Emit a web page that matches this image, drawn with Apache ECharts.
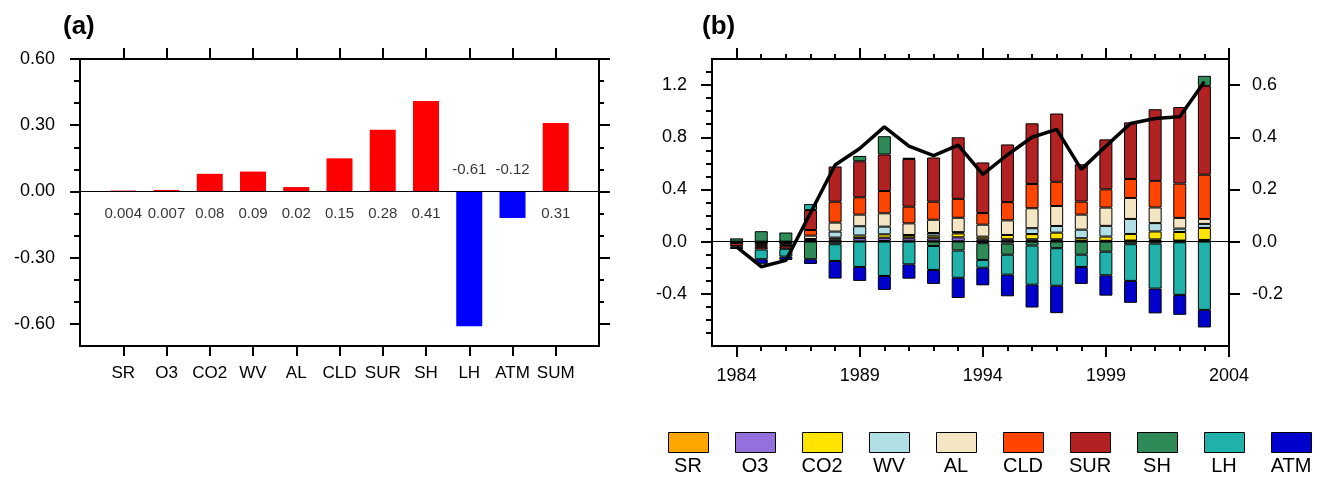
<!DOCTYPE html>
<html><head><meta charset="utf-8">
<script src="https://cdn.jsdelivr.net/npm/echarts@6/dist/echarts.min.js"></script>
<style>html,body{margin:0;padding:0;background:#fff}#c{width:1320px;height:478px}</style>
</head><body><div id="c"></div>
<script>
// ---------- Panel (a) data ----------
const termsA = ['SR','O3','CO2','WV','AL','CLD','SUR','SH','LH','ATM','SUM'];
const valuesA = [0.004, 0.007, 0.08, 0.09, 0.02, 0.15, 0.28, 0.41, -0.61, -0.12, 0.31];
const yMajorA = [-0.6, -0.3, 0, 0.3, 0.6];
const yMinorA = [-0.5, -0.4, -0.2, -0.1, 0.1, 0.2, 0.4, 0.5];

// ---------- Panel (b) data ----------
const axisYears = ['1983','1984','1985','1986','1987','1988','1989','1990','1991','1992','1993','1994','1995','1996','1997','1998','1999','2000','2001','2002','2003','2004'];
const years = ['1984','1985','1986','1987','1988','1989','1990','1991','1992','1993','1994','1995','1996','1997','1998','1999','2000','2001','2002','2003'];
const yearMajor = ['1984', '1989', '1994', '1999', '2004'];
const yearMinor = ['1985','1986','1987','1988','1990','1991','1992','1993','1995','1996','1997','1998','2000','2001','2002','2003'];
const leftMajorB = [-0.4, 0, 0.4, 0.8, 1.2];
const leftMinorB = [-0.7,-0.6,-0.5,-0.3,-0.2,-0.1,0.1,0.2,0.3,0.5,0.6,0.7,0.9,1.0,1.1,1.3];
const rightMajorB = [-0.2, 0, 0.2, 0.4, 0.6];

const termsB = ['SR','O3','CO2','WV','AL','CLD','SUR','SH','LH','ATM'];
const SR  = [0, 0, 0, 0, 0.003, 0.002, 0.005, 0.003, 0.003, 0.003, 0.003, 0.003, 0.003, 0.005, 0.003, 0.003, 0.005, 0.005, 0.005, 0.008];
const O3  = [0, -0.005, -0.005, 0.005, 0.015, 0.025, 0.025, 0.023, 0.023, 0.03, 0.015, 0.015, 0.015, 0.013, 0.003, 0.003, 0.003, 0.012, 0.003, 0.005];
const CO2 = [0, 0, 0, 0.005, 0.013, 0.02, 0.026, 0.02, 0.02, 0.03, 0.02, 0.033, 0.04, 0.051, 0.02, 0.033, 0.051, 0.061, 0.066, 0.092];
const WV  = [-0.005, -0.005, -0.005, 0.01, 0.046, 0.071, 0.059, 0.005, 0.02, 0.01, -0.012, -0.015, 0.045, 0.051, 0.066, 0.082, 0.115, 0.064, 0.026, 0.031];
const AL  = [0, -0.015, -0.015, 0.026, 0.069, 0.089, 0.102, 0.089, 0.102, 0.11, 0.092, 0.112, 0.153, 0.153, 0.115, 0.14, 0.161, 0.12, 0.082, 0.038];
const CLD = [-0.005, -0.015, -0.01, 0.043, 0.16, 0.133, 0.171, 0.128, 0.138, 0.145, 0.089, 0.14, 0.186, 0.186, 0.1, 0.14, 0.145, 0.204, 0.263, 0.339];
const SUR = [-0.025, -0.02, -0.02, 0.153, 0.27, 0.276, 0.28, 0.365, 0.339, 0.472, 0.388, 0.442, 0.465, 0.523, 0.286, 0.383, 0.434, 0.549, 0.587, 0.681];
const SH  = [0.025, 0.08, 0.07, -0.135, -0.02, 0.041, 0.14, 0.01, -0.033, -0.068, -0.128, -0.085, -0.03, -0.05, -0.1, -0.077, -0.02, -0.015, -0.005, 0.077];
const LH  = [-0.015, -0.075, -0.06, 0.046, -0.128, -0.194, -0.263, -0.174, -0.184, -0.209, -0.06, -0.153, -0.30, -0.288, -0.094, -0.181, -0.281, -0.345, -0.403, -0.523];
const ATM = [-0.005, -0.035, -0.025, -0.036, -0.135, -0.107, -0.107, -0.11, -0.107, -0.155, -0.135, -0.166, -0.175, -0.21, -0.13, -0.156, -0.168, -0.19, -0.153, -0.135];
const lineB = [-0.02, -0.096, -0.072, 0.11, 0.294, 0.357, 0.44, 0.366, 0.33, 0.37, 0.258, 0.333, 0.40, 0.43, 0.277, 0.366, 0.453, 0.472, 0.479, 0.613];

const colorsB = ['#FFA500','#9370DB','#FFE400','#B0E0E6','#F5E6C3','#FF4500','#B22222','#2E8B57','#20B2AA','#0000CD'];
const seriesB = [SR, O3, CO2, WV, AL, CLD, SUR, SH, LH, ATM];

const FONT = 'Liberation Sans, Arial, Helvetica, sans-serif';
const chart = echarts.init(document.getElementById('c'), null, {renderer: 'canvas'});

// category axis for panel (a): one empty slot at each end so the plot has a full-category margin
const axisTermsA = [''].concat(termsA, ['']);

const TICK_STYLE = {color: '#000', width: 2};
function valueTickAxis(base, vals, len, labelCfg) {
  return Object.assign({
    axisLine: {show: false, onZero: false},
    splitLine: {show: false},
    axisTick: {show: true, inside: false, length: len, customValues: vals, lineStyle: TICK_STYLE},
    axisLabel: labelCfg ? Object.assign({show: true, color: '#000', fontFamily: FONT}, labelCfg) : {show: false}
  }, base);
}
function catAxis(gridIndex, data, position, tickTest, len, labelCfg) {
  return {
    type: 'category', gridIndex: gridIndex, data: data, boundaryGap: false, position: position,
    axisLine: {show: false, onZero: false},
    splitLine: {show: false},
    axisTick: {show: true, inside: false, length: len, lineStyle: TICK_STYLE,
      interval: (idx, val) => tickTest(val)},
    axisLabel: labelCfg ? Object.assign({show: true, color: '#000', fontFamily: FONT}, labelCfg) : {show: false}
  };
}
const isTermA = v => v !== '';
const isMajorYear = v => yearMajor.indexOf(v) >= 0;
const isMinorYear = v => yearMinor.indexOf(v) >= 0;

// legend layout
const LEG_LEFT = 668, LEG_STEP = 67, LEG_BOX_W = 40, LEG_TOP = 432;

const graphics = [
  {type: 'text', left: 63, top: 14, style: {text: '(a)', font: 'bold 26px ' + FONT, fill: '#000'}},
  {type: 'text', left: 702, top: 14, style: {text: '(b)', font: 'bold 26px ' + FONT, fill: '#000'}}
];
termsB.forEach((t, i) => {
  graphics.push({type: 'text', x: LEG_LEFT + i * LEG_STEP + LEG_BOX_W / 2, y: 466,
    style: {text: t, font: '20px ' + FONT, fill: '#000', align: 'center', verticalAlign: 'middle'}});
});

const option = {
  backgroundColor: '#fff',
  animation: false,
  textStyle: {fontFamily: FONT},
  graphic: graphics,
  grid: [
    {left: 80, top: 59, width: 519, height: 287, show: true, borderColor: '#000', borderWidth: 2, backgroundColor: 'transparent'},
    {left: 712, top: 59, width: 517, height: 287, show: true, borderColor: '#000', borderWidth: 2, backgroundColor: 'transparent'}
  ],
  legend: {
    data: termsB, left: LEG_LEFT, top: LEG_TOP, padding: 0,
    itemWidth: LEG_BOX_W, itemHeight: 20, itemGap: LEG_STEP - LEG_BOX_W - 1,
    icon: 'rect', selectedMode: false,
    formatter: () => '',
    itemStyle: {borderColor: '#000', borderWidth: 1}
  },
  xAxis: [
    catAxis(0, axisTermsA, 'bottom', isTermA, 10,
      {interval: (idx, val) => val !== '', fontSize: 17, margin: 19}),
    catAxis(0, axisTermsA, 'top', isTermA, 11, null),
    catAxis(1, axisYears, 'bottom', isMajorYear, 11,
      {interval: (idx, val) => isMajorYear(val), fontSize: 18, margin: 21}),
    catAxis(1, axisYears, 'bottom', isMinorYear, 5, null),
    catAxis(1, axisYears, 'top', isMajorYear, 11, null),
    catAxis(1, axisYears, 'top', isMinorYear, 5, null)
  ],
  yAxis: [
    valueTickAxis({type: 'value', gridIndex: 0, min: -0.7, max: 0.6, position: 'left'}, yMajorA, 10,
      {customValues: yMajorA, formatter: v => v.toFixed(2), fontSize: 18, margin: 25}),
    valueTickAxis({type: 'value', gridIndex: 0, min: -0.7, max: 0.6, position: 'left'}, yMinorA, 6, null),
    valueTickAxis({type: 'value', gridIndex: 0, min: -0.7, max: 0.6, position: 'right'}, yMajorA, 11, null),
    valueTickAxis({type: 'value', gridIndex: 0, min: -0.7, max: 0.6, position: 'right'}, yMinorA, 5, null),
    valueTickAxis({type: 'value', gridIndex: 1, min: -0.8, max: 1.4, position: 'left'}, leftMajorB, 11,
      {customValues: leftMajorB, formatter: v => v.toFixed(1), fontSize: 18, margin: 25}),
    valueTickAxis({type: 'value', gridIndex: 1, min: -0.8, max: 1.4, position: 'left'}, leftMinorB, 6, null),
    valueTickAxis({type: 'value', gridIndex: 1, min: -0.4, max: 0.7, position: 'right'}, rightMajorB, 11,
      {customValues: rightMajorB, formatter: v => v.toFixed(1), fontSize: 18, margin: 23})
  ],
  series: []
};

// Panel (a) bars
option.series.push({
  type: 'bar', name: 'trend', xAxisIndex: 0, yAxisIndex: 0, barWidth: 26,
  data: valuesA.map((v, i) => ({value: [termsA[i], v], itemStyle: {color: v >= 0 ? '#FF0000' : '#0000FF'}})),
  markLine: {silent: true, symbol: 'none', label: {show: false},
    lineStyle: {color: '#000', width: 1, type: 'solid'}, data: [{yAxis: 0}]},
  z: 2
});
// Panel (a) value labels
option.series.push({
  type: 'scatter', name: 'labels', xAxisIndex: 0, yAxisIndex: 0, symbolSize: 0.1,
  itemStyle: {color: 'transparent'}, silent: true,
  data: valuesA.map((v, i) => ({value: [termsA[i], 0],
    label: {position: v >= 0 ? 'bottom' : 'top', distance: v >= 0 ? 15 : 14}})),
  label: {show: true, color: '#000', fontSize: 15, fontFamily: FONT,
    formatter: p => String(valuesA[p.dataIndex])},
  z: 5
});

// Panel (b) stacked bars
seriesB.forEach((arr, k) => {
  const s = {
    type: 'bar', name: termsB[k], xAxisIndex: 2, yAxisIndex: 4, stack: 'b', barWidth: 13,
    itemStyle: {color: colorsB[k], borderColor: '#000', borderWidth: 1},
    data: years.map((y, i) => [y, arr[i]]),
    z: 2
  };
  if (k === 0) {
    s.markLine = {silent: true, symbol: 'none', label: {show: false},
      lineStyle: {color: '#000', width: 1, type: 'solid'}, data: [{yAxis: 0}]};
  }
  option.series.push(s);
});

// Panel (b) line
option.series.push({
  type: 'line', name: 'line', xAxisIndex: 2, yAxisIndex: 6,
  data: years.map((y, i) => [y, lineB[i]]),
  symbol: 'none', lineStyle: {color: '#000', width: 3.5}, itemStyle: {color: '#000'}, z: 10
});

chart.setOption(option);
</script></body></html>
